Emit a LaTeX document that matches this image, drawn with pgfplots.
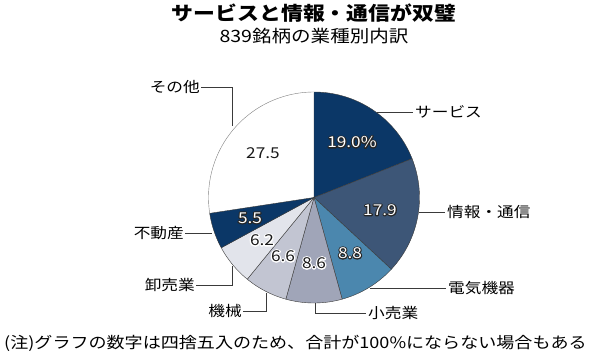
\documentclass[border=0pt]{standalone}
\usepackage{fontspec}
\setmainfont{Noto Sans CJK JP}[FakeStretch=1.15]
\usepackage{pgfplots}
\pgfplotsset{compat=1.18}
\definecolor{cNavy}{HTML}{0B3767}
\definecolor{cInfo}{HTML}{3D5677}
\definecolor{cElec}{HTML}{4B87AE}
\definecolor{cRetail}{HTML}{A0A5B8}
\definecolor{cMach}{HTML}{C2C5D2}
\definecolor{cWhole}{HTML}{E2E4EB}
\definecolor{cLine}{HTML}{3A3A3A}
\newcommand\R{105.5}
\newcommand\CX{314}
\newcommand\CY{156.5}
% stroked text (text render mode 2: fill + stroke)
\newcommand\stroked[2]{\special{pdf:literal direct 2 Tr #1 w 1 J 1 j}#2\special{pdf:literal direct 0 Tr}}
\begin{document}
\begin{tikzpicture}
\begin{axis}[at={(0,0)},anchor=south west,scale only axis,width=600pt,height=354pt,
  xmin=0,xmax=600,ymin=0,ymax=354,hide axis,clip=false]
\addplot[draw=none] coordinates {(0,0) (600,354)};
% values (percent): 19.0, 17.9, 8.8, 8.6, 6.6, 6.2, 5.5, 27.5
\addplot[fill=cNavy,draw=cLine,line width=0.4pt,domain={90-3.6*19.0}:{90},samples=50,variable=\t]
  ({\CX+\R*cos(t)},{\CY+\R*sin(t)}) -- (axis cs:\CX,\CY) -- cycle;
\addplot[fill=cInfo,draw=cLine,line width=0.4pt,domain={90-3.6*36.9}:{90-3.6*19.0},samples=50,variable=\t]
  ({\CX+\R*cos(t)},{\CY+\R*sin(t)}) -- (axis cs:\CX,\CY) -- cycle;
\addplot[fill=cElec,draw=cLine,line width=0.4pt,domain={90-3.6*45.7}:{90-3.6*36.9},samples=30,variable=\t]
  ({\CX+\R*cos(t)},{\CY+\R*sin(t)}) -- (axis cs:\CX,\CY) -- cycle;
\addplot[fill=cRetail,draw=cLine,line width=0.4pt,domain={90-3.6*54.3}:{90-3.6*45.7},samples=30,variable=\t]
  ({\CX+\R*cos(t)},{\CY+\R*sin(t)}) -- (axis cs:\CX,\CY) -- cycle;
\addplot[fill=cMach,draw=cLine,line width=0.4pt,domain={90-3.6*60.9}:{90-3.6*54.3},samples=30,variable=\t]
  ({\CX+\R*cos(t)},{\CY+\R*sin(t)}) -- (axis cs:\CX,\CY) -- cycle;
\addplot[fill=cWhole,draw=cLine,line width=0.4pt,domain={90-3.6*67.1}:{90-3.6*60.9},samples=30,variable=\t]
  ({\CX+\R*cos(t)},{\CY+\R*sin(t)}) -- (axis cs:\CX,\CY) -- cycle;
\addplot[fill=cNavy,draw=cLine,line width=0.4pt,domain={90-3.6*72.6}:{90-3.6*67.1},samples=30,variable=\t]
  ({\CX+\R*cos(t)},{\CY+\R*sin(t)}) -- (axis cs:\CX,\CY) -- cycle;
\addplot[fill=white,draw=gray,line width=0.4pt,domain={-270}:{90-3.6*72.6},samples=80,variable=\t]
  ({\CX+\R*cos(t)},{\CY+\R*sin(t)});
% leader lines
\draw[cLine,line width=0.6pt] (axis cs:201,267) -- (axis cs:232,267) -- (axis cs:232,228);
\draw[cLine,line width=0.6pt] (axis cs:377,242) -- (axis cs:413,242);
\draw[cLine,line width=0.6pt] (axis cs:419,142) -- (axis cs:445,142);
\draw[cLine,line width=0.6pt] (axis cs:370,66) -- (axis cs:446,66);
\draw[cLine,line width=0.6pt] (axis cs:315,51) -- (axis cs:315,41) -- (axis cs:366,41);
\draw[cLine,line width=0.6pt] (axis cs:243,43) -- (axis cs:266,43) -- (axis cs:266,61);
\draw[cLine,line width=0.6pt] (axis cs:196,69) -- (axis cs:232,69) -- (axis cs:232,88);
\draw[cLine,line width=0.6pt] (axis cs:185,121) -- (axis cs:212,121);
\end{axis}
% titles
\node[font=\fontsize{19}{22}\selectfont\bfseries] at (314pt,341pt) {サービスと情報・通信が双璧};
\node[font=\fontsize{17}{20}\selectfont] at (314pt,318pt) {839銘柄の業種別内訳};
\node[font=\fontsize{15.7}{18}\selectfont,anchor=west,inner sep=0pt] at (4pt,11pt) {(注)グラフの数字は四捨五入のため、合計が100\%にならない場合もある};
% category labels
\begin{scope}[every node/.style={font=\fontsize{14.5}{17}\selectfont,inner sep=0pt}]
\node[anchor=east] at (200pt,267pt) {その他};
\node[anchor=west] at (415pt,242pt) {サービス};
\node[anchor=west] at (447pt,142pt) {情報・通信};
\node[anchor=west] at (448pt,66pt) {電気機器};
\node[anchor=west] at (368pt,41pt) {小売業};
\node[anchor=east] at (242pt,43pt) {機械};
\node[anchor=east] at (195pt,69pt) {卸売業};
\node[anchor=east] at (184pt,121pt) {不動産};
\end{scope}
% value labels
\begin{scope}[every node/.style={font=\fontsize{15}{17}\selectfont,inner sep=0pt}]
\foreach \p/\t in {{352pt,212pt}/{19.0\%},{380pt,144pt}/{17.9},{350pt,101pt}/{8.8},{250pt,136pt}/{5.5}}{
  \node[text=black!85] at (\p) {\stroked{2.2}{\t}};
  \node[text=white] at (\p) {\t};
}
\foreach \p/\t in {{314pt,91pt}/{8.6},{283pt,98pt}/{6.6},{262pt,114pt}/{6.2}}{
  \node[text=white] at (\p) {\stroked{2.6}{\t}};
  \node[text=black!90] at (\p) {\t};
}
\node[text=black!90] at (263pt,201pt) {27.5};
\end{scope}
\end{tikzpicture}
\end{document}
